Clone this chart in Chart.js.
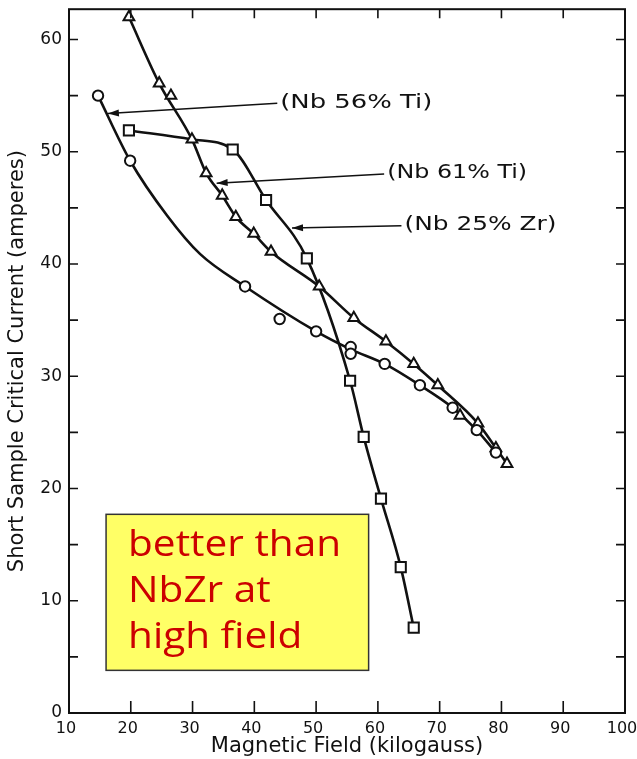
<!DOCTYPE html>
<html>
<head>
<meta charset="utf-8">
<script src="https://cdn.jsdelivr.net/npm/chart.js@4.4.1/dist/chart.umd.min.js"></script>
<style>
  html, body { margin: 0; padding: 0; background: #fff; }
  #wrap { width: 637px; height: 759px; }
</style>
</head>
<body>
<div id="wrap"><canvas id="c" width="637" height="759"></canvas></div>
<script>
// Short-sample critical current against field for three superconducting alloys

const xTicks = [10, 20, 30, 40, 50, 60, 70, 80, 90, 100];
const yTicks = [0, 10, 20, 30, 40, 50, 60];

// Nb 56% Ti (open circles)
const nbTi56Points = [
  [14.7, 55.0], [19.9, 49.2], [38.5, 38.0], [44.1, 35.1], [50.0, 34.0],
  [55.6, 32.6], [55.6, 32.0], [61.1, 31.1], [66.8, 29.2], [72.1, 27.2],
  [76.0, 25.2], [79.1, 23.2]
];
const nbTi56Curve = [
  [14.7, 55.0], [19.9, 49.2], [25.9, 44.3], [31.2, 40.9], [38.5, 38.0],
  [50.0, 34.0], [55.6, 32.4], [61.1, 31.1], [66.8, 29.2], [72.1, 27.2],
  [76.0, 25.2], [79.1, 23.2]
];

// Nb 61% Ti (open triangles)
const nbTi61Points = [
  [19.7, 62.0], [24.6, 56.1], [26.5, 55.0], [29.9, 51.1], [32.2, 48.1],
  [34.8, 46.1], [37.0, 44.2], [39.9, 42.7], [42.7, 41.1], [50.5, 38.0],
  [56.1, 35.2], [61.3, 33.1], [65.8, 31.1], [69.7, 29.2], [73.3, 26.5],
  [76.2, 25.8], [79.1, 23.6], [80.9, 22.2]
];
const nbTi61Curve = [
  [19.7, 62.0], [24.6, 56.1], [29.9, 51.1], [32.2, 48.1], [34.8, 46.1],
  [37.0, 44.2], [39.9, 42.7], [42.7, 41.1], [50.5, 38.0], [56.1, 35.2],
  [61.3, 33.1], [65.8, 31.1], [69.7, 29.2], [76.2, 25.8], [79.1, 23.6],
  [80.9, 22.2]
];

// Nb 25% Zr (open squares)
const nbZr25Points = [
  [19.7, 51.9], [36.5, 50.2], [41.9, 45.7], [48.5, 40.5], [55.5, 29.6],
  [57.7, 24.6], [60.5, 19.1], [63.7, 13.0], [65.8, 7.6]
];
const nbZr25Curve = [
  [19.7, 51.9], [29.9, 51.1], [36.5, 50.2], [41.9, 45.7], [48.5, 40.5],
  [55.5, 29.6], [57.7, 24.6], [60.5, 19.1], [63.7, 13.0], [65.8, 7.6]
];

// Curve labels: text anchor and arrow tip, in field / current units
const curveLabels = [
  { text: '(Nb 56% Ti)', at: [44.2, 54.4], tip: [16.3, 53.4], width: 152 },
  { text: '(Nb 61% Ti)', at: [61.5, 48.1], tip: [33.9, 47.2], width: 140 },
  { text: '(Nb 25% Zr)', at: [64.3, 43.5], tip: [46.1, 43.2], width: 152 }
];

// Note box corners (field, current) and its lines
const noteBox = { x0: 16.0, x1: 58.5, y0: 17.7, y1: 3.8 };
const noteLines = ['better than', 'NbZr at', 'high field'];

const toXY = arr => arr.map(([x, y]) => ({ x, y }));

const INK = '#111111';
const FONT = '"DejaVu Sans", "Liberation Sans", sans-serif';

function markerSet(label, pts, style, radius) {
  return {
    type: 'scatter', label, data: toXY(pts), showLine: false,
    pointStyle: style, pointRadius: radius, pointHoverRadius: radius,
    pointBorderWidth: 2, pointBorderColor: INK, pointBackgroundColor: '#ffffff',
    order: 0
  };
}
function curveSet(label, pts) {
  return {
    type: 'line', label, data: toXY(pts), borderColor: INK, borderWidth: 2.6,
    pointRadius: 0, fill: false, cubicInterpolationMode: 'monotone', order: 1
  };
}

function arrow(ctx, x1, y1, x2, y2) {
  ctx.beginPath();
  ctx.moveTo(x1, y1);
  ctx.lineTo(x2, y2);
  ctx.stroke();
  const a = Math.atan2(y2 - y1, x2 - x1);
  const L = 11, W = 3.5;
  ctx.beginPath();
  ctx.moveTo(x2, y2);
  ctx.lineTo(x2 - L * Math.cos(a) + W * Math.sin(a), y2 - L * Math.sin(a) - W * Math.cos(a));
  ctx.lineTo(x2 - L * Math.cos(a) - W * Math.sin(a), y2 - L * Math.sin(a) + W * Math.cos(a));
  ctx.closePath();
  ctx.fill();
}

const decorations = {
  id: 'decorations',
  afterDatasetsDraw(chart) {
    const { ctx, chartArea: ca, scales: { x, y } } = chart;
    ctx.save();
    ctx.strokeStyle = INK;
    ctx.fillStyle = INK;
    ctx.lineCap = 'butt';

    // frame
    ctx.lineWidth = 2;
    ctx.strokeRect(ca.left, ca.top, ca.right - ca.left, ca.bottom - ca.top);

    // inward tick marks: x every 10 (top & bottom), y every 5 (left & right)
    ctx.lineWidth = 1.6;
    xTicks.forEach(v => {
      const px = x.getPixelForValue(v);
      ctx.beginPath();
      ctx.moveTo(px, ca.bottom); ctx.lineTo(px, ca.bottom - 12);
      ctx.moveTo(px, ca.top); ctx.lineTo(px, ca.top + 9);
      ctx.stroke();
    });
    for (let v = y.min; v <= y.max; v += 5) {
      const py = y.getPixelForValue(v);
      ctx.beginPath();
      ctx.moveTo(ca.left, py); ctx.lineTo(ca.left + 9, py);
      ctx.moveTo(ca.right, py); ctx.lineTo(ca.right - 9, py);
      ctx.stroke();
    }

    // curve labels with leader arrows
    ctx.font = '20px ' + FONT;
    ctx.textBaseline = 'middle';
    ctx.lineWidth = 1.5;
    curveLabels.forEach(l => {
      const tx = x.getPixelForValue(l.at[0]);
      const ty = y.getPixelForValue(l.at[1]);
      arrow(ctx, tx - 3, ty + 1, x.getPixelForValue(l.tip[0]), y.getPixelForValue(l.tip[1]));
      const w = ctx.measureText(l.text).width;
      ctx.save();
      ctx.translate(tx, ty);
      ctx.scale(l.width / w, 1);
      ctx.fillText(l.text, 0, 0);
      ctx.restore();
    });

    // note box
    const bx0 = x.getPixelForValue(noteBox.x0), bx1 = x.getPixelForValue(noteBox.x1);
    const by0 = y.getPixelForValue(noteBox.y0), by1 = y.getPixelForValue(noteBox.y1);
    ctx.fillStyle = '#ffff66';
    ctx.fillRect(bx0, by0, bx1 - bx0, by1 - by0);
    ctx.strokeStyle = '#333333';
    ctx.lineWidth = 1.5;
    ctx.strokeRect(bx0, by0, bx1 - bx0, by1 - by0);
    ctx.fillStyle = '#cc0000';
    ctx.font = '500 37px "Open Sans", "Noto Sans", sans-serif';
    ctx.textBaseline = 'alphabetic';
    const wRef = ctx.measureText(noteLines[0]).width;
    const sx = 213 / wRef;
    noteLines.forEach((t, i) => {
      ctx.save();
      ctx.translate(bx0 + 22, by0 + 42 + i * 46);
      ctx.scale(sx, 1);
      ctx.fillText(t, 0, 0);
      ctx.restore();
    });
    ctx.restore();
  }
};

new Chart(document.getElementById('c'), {
  data: {
    datasets: [
      curveSet('Nb 56% Ti curve', nbTi56Curve),
      curveSet('Nb 61% Ti curve', nbTi61Curve),
      curveSet('Nb 25% Zr curve', nbZr25Curve),
      markerSet('Nb 56% Ti', nbTi56Points, 'circle', 5.2),
      markerSet('Nb 61% Ti', nbTi61Points, 'triangle', 6.2),
      markerSet('Nb 25% Zr', nbZr25Points, 'rect', 7.2)
    ]
  },
  options: {
    responsive: false,
    devicePixelRatio: 1,
    animation: false,
    layout: { padding: { top: 8, right: 12, left: 0, bottom: 0 } },
    plugins: { legend: { display: false }, tooltip: { enabled: false } },
    scales: {
      x: {
        type: 'linear', min: 10, max: 100,
        afterBuildTicks: s => { s.ticks = xTicks.map(v => ({ value: v })); },
        afterFit: s => { s.height = 46; s.paddingLeft = 0; s.paddingRight = 0; },
        grid: { display: false, drawTicks: false },
        border: { display: false },
        ticks: { color: INK, font: { family: FONT, size: 16 }, padding: 6, labelOffset: -3,
                 maxRotation: 0, autoSkip: false },
        title: { display: true, text: 'Magnetic Field (kilogauss)', color: INK,
                 font: { family: FONT, size: 21 }, padding: { top: 0, bottom: 0 } }
      },
      y: {
        type: 'linear', min: 0, max: 62.7,
        afterBuildTicks: s => { s.ticks = yTicks.map(v => ({ value: v })); },
        afterFit: s => { s.width = 69; s.paddingTop = 0; s.paddingBottom = 0; },
        grid: { display: false, drawTicks: false },
        border: { display: false },
        ticks: { color: INK, font: { family: FONT, size: 17 }, padding: 7, autoSkip: false },
        title: { display: true, text: 'Short Sample Critical Current (amperes)', color: INK,
                 font: { family: FONT, size: 21 }, padding: { top: 5, bottom: 0 } }
      }
    }
  },
  plugins: [decorations]
});
</script>
</body>
</html>
